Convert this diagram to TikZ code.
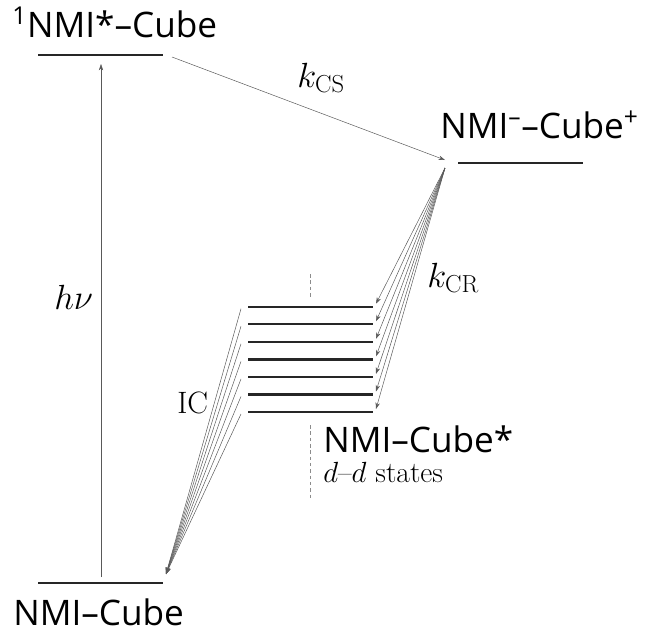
\documentclass[tikz,border=0pt]{standalone}
\usepackage{fontspec}
\newfontfamily\statefont{Open Sans}
\usetikzlibrary{positioning,arrows.meta}
\tikzset{
  level/.style={line width=1.7pt, black!85},
  flowarrow/.style={-{Stealth[length=1.6mm, width=1.1mm]}, line width=0.35pt, black!65},
  statelabel/.style={font=\statefont\fontsize{25}{28}\selectfont, inner sep=0pt, anchor=base west},
  ratelabel/.style={font=\fontsize{25}{28}\selectfont, inner sep=0pt, anchor=base west},
  guide/.style={black!45, line width=0.7pt, dash pattern=on 2.5pt off 2pt}
}

\begin{document}
\begin{tikzpicture}[x=0.025cm, y=-0.025cm]
  \useasboundingbox (0,0) rectangle (652,633);
  \coordinate (s1L) at (38,55);   \coordinate (s1R) at (163,55);
  \coordinate (ctL) at (458,163); \coordinate (ctR) at (583,163);
  \coordinate (s0L) at (38,583);  \coordinate (s0R) at (163,583);
  \foreach \i in {0,...,6} {
    \coordinate (dL\i) at (248,{306.7+17.55*\i});
    \coordinate (dR\i) at (373,{306.7+17.55*\i});
  }
  \draw[level] (s1L) -- (s1R);
  \draw[level] (ctL) -- (ctR);
  \draw[level] (s0L) -- (s0R);
  \foreach \i in {0,...,6}
    \draw[level] (dL\i) -- (dR\i);

  \coordinate (hvfoot) at (101,577); \coordinate (hvtip) at (101,64);
  \coordinate (cssrc) at (172,57);   \coordinate (cstip) at (445,160);
  \coordinate (crsrc) at (445,168);  \coordinate (ictip) at (166,574);
  \draw[flowarrow] (hvfoot) -- (hvtip);
  \draw[flowarrow] (cssrc) -- (cstip);
  \foreach \i in {0,...,6} {
    \draw[flowarrow] (crsrc) -- ([shift={(3,-3)}]dR\i);
    \draw[flowarrow] ([shift={(-7,2)}]dL\i) -- (ictip);
  }

  \coordinate (g1a) at (310,274); \coordinate (g1b) at (310,298);
  \coordinate (g2a) at (310,425); \coordinate (g2b) at (310,500);
  \draw[guide] (g1a) -- (g1b);
  \draw[guide] (g2a) -- (g2b);

  \node[statelabel] (s1lbl) at (12,37) {\textsuperscript{1}NMI*–Cube};
  \node[statelabel] (ctlbl) at (440,138) {NMI\textsuperscript{–}–Cube\textsuperscript{+}};
  \node[statelabel] (ddlbl) at (323,452) {NMI–Cube*};
  \node[font=\fontsize{21}{24}\selectfont, inner sep=0pt, anchor=base west] (ddsub) at (323,482) {$d$–$d$ states};
  \node[statelabel] (s0lbl) at (13,625) {NMI–Cube};
  \node[ratelabel] (kcs) at (297,87) {$k_{\mathrm{CS}}$};
  \node[ratelabel] (kcr) at (427,287) {$k_{\mathrm{CR}}$};
  \node[ratelabel] (hv) at (54,309) {$h\nu$};
  \node[ratelabel, font=\fontsize{22}{24}\selectfont] (ic) at (177,413) {IC};
\end{tikzpicture}
\end{document}
